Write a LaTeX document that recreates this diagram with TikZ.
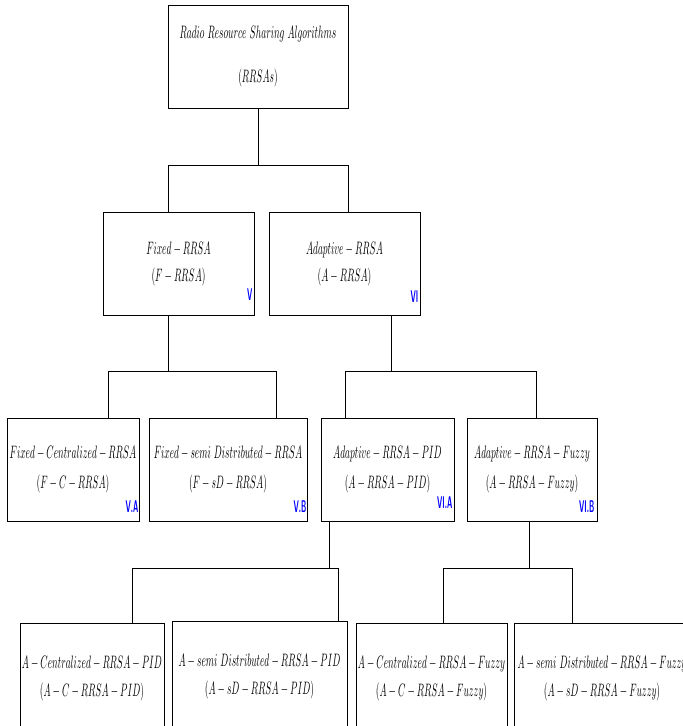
\documentclass[tikz,border=0pt]{standalone}
\usepackage{graphicx}
\newcommand{\rr}[1]{\scalebox{0.94}[1.8]{$#1$}}
\newcommand{\tagtext}[1]{\scalebox{0.72}[1.7]{#1}}

\begin{document}
\begin{tikzpicture}[x=1pt,y=1pt,
    box/.style={draw, line width=1pt, inner sep=0pt, align=center, font=\fontsize{10}{27}\selectfont},
    bus/.style={line width=0.7pt},
    tagnum/.style={blue, anchor=base east, inner sep=0pt, font=\sffamily\bfseries\fontsize{10}{12}\selectfont}]
            \useasboundingbox (0,0) rectangle (683,-726);
            \clip (0,0) rectangle (683,-726);
            \node[box, minimum width=180pt, minimum height=103pt] (root) at (258,-56.5) {\rr{Radio\ Resource\ Sharing\ Algorithms}\\[17pt]\rr{(RRSAs)}};
            \node[box, minimum width=151pt, minimum height=103pt] (fixed) at (178.5,-263.5) {\rr{Fixed-RRSA}\\\rr{(F-RRSA)}};
            \node[box, minimum width=151pt, minimum height=103pt] (adapt) at (344.5,-263.5) {\rr{Adaptive-RRSA}\\\rr{(A-RRSA)}};
            \node[box, minimum width=132pt, minimum height=103pt] (fc) at (73,-469.5) {\rr{Fixed-Centralized-RRSA}\\[3pt]\rr{(F-C-RRSA)}};
            \node[box, minimum width=158pt, minimum height=103pt] (fsd) at (228,-469.5) {\rr{Fixed-semi\ Distributed-RRSA}\\[3pt]\rr{(F-sD-RRSA)}};
            \node[box, minimum width=133pt, minimum height=103pt] (apid) at (387.5,-469.5) {\rr{Adaptive-RRSA-PID}\\[3pt]\rr{(A-RRSA-PID)}};
            \node[box, minimum width=130pt, minimum height=103pt] (afuz) at (532,-469.5) {\rr{Adaptive-RRSA-Fuzzy}\\[3pt]\rr{(A-RRSA-Fuzzy)}};
            \node[box, minimum width=144pt, minimum height=110pt] (acpid) at (92,-678) {\rr{A-Centralized-RRSA-PID}\\[1pt]\rr{(A-C-RRSA-PID)}};
            \node[box, minimum width=175pt, minimum height=110pt] (asdpid) at (259.5,-676) {\rr{A-semi\ Distributed-RRSA-PID}\\[1pt]\rr{(A-sD-RRSA-PID)}};
            \node[box, minimum width=151pt, minimum height=110pt] (acfuz) at (431.5,-678) {\rr{A-Centralized-RRSA-Fuzzy}\\[1pt]\rr{(A-C-RRSA-Fuzzy)}};
            \node[box, minimum width=176pt, minimum height=110pt] (asdfuz) at (602,-678) {\rr{A-semi\ Distributed-RRSA-Fuzzy}\\[1pt]\rr{(A-sD-RRSA-Fuzzy)}};
            \node[tagnum] (tagV) at ([shift={(-2,15)}]fixed.south east) {\tagtext{V}};
            \node[tagnum] (tagVI) at ([shift={(-2,13)}]adapt.south east) {\tagtext{VI}};
            \node[tagnum] (tagVA) at ([shift={(-1,9)}]fc.south east) {\tagtext{V.A}};
            \node[tagnum] (tagVB) at ([shift={(-1,9)}]fsd.south east) {\tagtext{V.B}};
            \node[tagnum] (tagVIA) at ([shift={(-2,13)}]apid.south east) {\tagtext{VI.A}};
            \node[tagnum] (tagVIB) at ([shift={(-3,9)}]afuz.south east) {\tagtext{VI.B}};
            \coordinate (j1) at ([yshift=-57]root.south);
            \coordinate (j2) at ([shift={(-10.5,-56)}]fixed.south);
            \coordinate (j3) at ([shift={(46.5,-56)}]adapt.south);
            \coordinate (j4) at ([shift={(-58.5,-47)}]apid.south);
            \coordinate (j5) at ([shift={(-3,-47)}]afuz.south);
            \draw[bus] (root.south) -- (j1);
            \draw[bus] ([xshift=-10.5]fixed.north) |- (j1) -| ([xshift=3.5]adapt.north);
            \draw[bus] ([xshift=-10.5]fixed.south) -- (j2);
            \draw[bus] ([xshift=35]fc.north) |- (j2) -| ([xshift=48]fsd.north);
            \draw[bus] ([xshift=46.5]adapt.south) -- (j3);
            \draw[bus] ([xshift=-42.5]apid.north) |- (j3) -| ([xshift=4]afuz.north);
            \draw[bus] ([xshift=-58.5]apid.south) -- (j4);
            \draw[bus] ([xshift=40]acpid.north) |- (j4) -| ([xshift=78.5]asdpid.north);
            \draw[bus] ([xshift=-3]afuz.south) -- (j5);
            \draw[bus] ([xshift=11.5]acfuz.north) |- (j5) -| ([xshift=-30]asdfuz.north);
        \end{tikzpicture}
\end{document}
